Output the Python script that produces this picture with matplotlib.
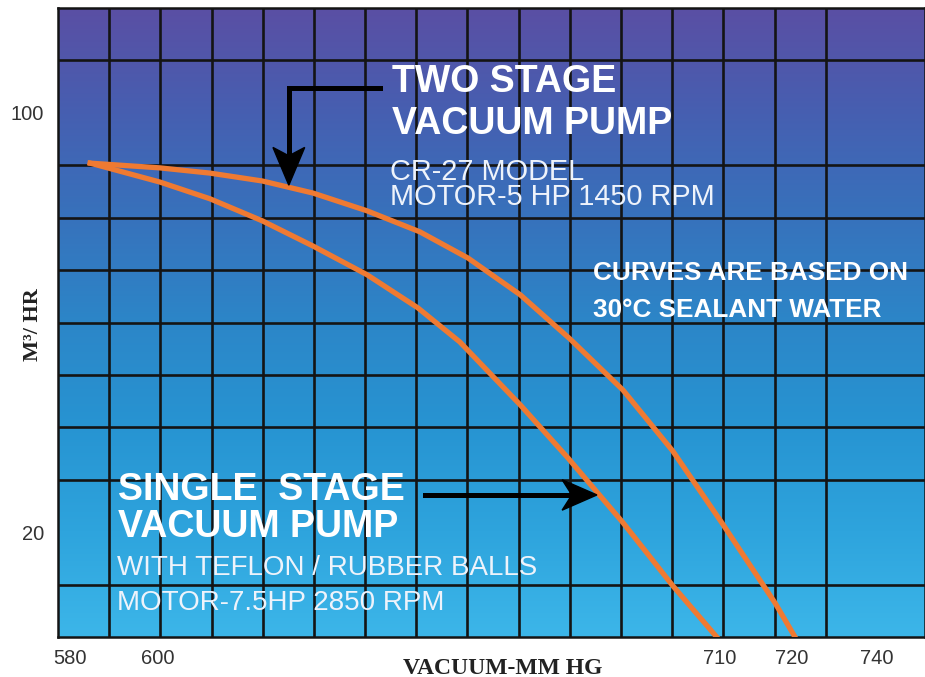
import numpy as np
import matplotlib.pyplot as plt
from matplotlib.colors import LinearSegmentedColormap
from matplotlib.patches import Polygon

# vacuum (mm Hg) vs capacity (m3/hr)
two_x = [586.3, 599.9, 609.7, 619.9, 629.8, 640.4, 650.7, 660.1, 670.3, 680.0,
         690.4, 700.1, 709.7, 714.8, 720.1, 724.0]
two_y = [90.4, 89.5, 88.5, 87.0, 84.7, 81.3, 77.3, 72.3, 65.3, 56.9,
         47.1, 35.5, 21.8, 14.3, 6.5, 0.0]

single_x = [586.3, 599.9, 609.7, 619.9, 629.8, 640.4, 650.3, 658.5, 670.3, 679.6,
            690.4, 700.1, 708.7]
single_y = [90.4, 86.8, 83.6, 79.4, 74.6, 69.1, 62.8, 56.3, 44.3, 34.2,
            21.8, 9.8, 0.0]

xtick_pos = [582.3, 599.5, 709.3, 723.4, 740.0]
xtick_lab = ['580', '600', '710', '720', '740']
ytick_pos = [100, 20]
ytick_lab = ['100', '20']

fig = plt.figure(figsize=(9.25, 6.77), dpi=100)
ax = fig.add_axes([58/925, 40/677, 867/925, 629/677])
xmin, xmax, ymin, ymax = 580, 749.4, 0, 120

# background gradient purple -> light blue
cmap = LinearSegmentedColormap.from_list('bg', ['#3cb6e9', '#2ea4dd', '#2794d2', '#2c86c8',
                                                 '#3772bc', '#465fb1', '#5a4fa4'])
grad = np.linspace(0, 1, 256).reshape(-1, 1)
ax.imshow(grad, cmap=cmap, origin='lower', extent=[xmin, xmax, ymin, ymax],
          aspect='auto', zorder=0)

ax.set_xlim(xmin, xmax)
ax.set_ylim(ymin, ymax)
ax.set_xticks(np.arange(590, 750, 10), minor=True)
ax.set_yticks(np.arange(10, 120, 10), minor=True)
ax.grid(which='minor', color='#141414', lw=1.9, zorder=1)
ax.set_xticks(xtick_pos)
ax.set_xticklabels(xtick_lab)
ax.set_yticks(ytick_pos)
ax.set_yticklabels(ytick_lab)
ax.tick_params(which='both', length=0)
ax.tick_params(axis='x', pad=9, labelsize=14.5, labelcolor='#333333')
ax.tick_params(axis='y', pad=10, labelsize=14.5, labelcolor='#333333')
for lab in ax.get_xticklabels() + ax.get_yticklabels():
    lab.set_fontfamily('Liberation Sans')
for s in ax.spines.values():
    s.set_color('#141414')
    s.set_linewidth(1.8)

orange = '#ef7a32'
ax.plot(two_x, two_y, color=orange, lw=3.8, zorder=3, solid_joinstyle='round')
ax.plot(single_x, single_y, color=orange, lw=3.8, zorder=3, solid_joinstyle='round')

# arrows
ax.plot([642.9, 625.1, 625.1], [104.7, 104.7, 92.0], color='black', lw=3.6, zorder=4,
        solid_joinstyle='miter')
ax.add_patch(Polygon([(622.0, 93.4), (625.1, 86.2), (628.2, 93.4), (625.1, 91.8)],
                     closed=True, color='black', zorder=4))
ax.plot([651.7, 680.0], [27.1, 27.1], color='black', lw=3.6, zorder=4)
ax.add_patch(Polygon([(678.5, 30.0), (685.3, 27.1), (678.5, 24.2), (680.4, 27.1)],
                     closed=True, color='black', zorder=4))

# texts
big = dict(color='white', fontsize=27, fontweight='bold', family='Liberation Sans', zorder=5)
small = dict(color='#eef3fb', fontsize=20, family='Liberation Sans', zorder=5)
ax.text(645.2, 104.0, 'TWO STAGE', **big)
ax.text(645.2, 96.0, 'VACUUM PUMP', **big)
ax.text(644.9, 87.2, 'CR-27 MODEL', color='#eef3fb', fontsize=20.8,
        family='Liberation Sans', zorder=5)
ax.text(644.9, 82.4, 'MOTOR-5 HP 1450 RPM', color='#eef3fb', fontsize=20.8,
        family='Liberation Sans', zorder=5)

note = dict(color='white', fontsize=18.8, fontweight='bold', family='Liberation Sans', zorder=5)
ax.text(684.5, 68.1, 'CURVES ARE BASED ON', **note)
ax.text(684.5, 61.1, '30\u00b0C SEALANT WATER', **note)

ax.text(591.7, 26.2, 'SINGLE  STAGE', **big)
ax.text(591.7, 19.1, 'VACUUM PUMP', **big)
ax.text(591.5, 11.9, 'WITH TEFLON / RUBBER BALLS', **small)
ax.text(591.5, 5.2, 'MOTOR-7.5HP 2850 RPM', **small)

fig.text(503/925, 1 - 668/677, 'VACUUM-MM HG', ha='center', va='center', fontsize=17,
         fontweight='bold', family='Liberation Serif', color='#222222')
fig.text(33/925, 1 - 325/677, 'M\u00b3/ HR', ha='center', va='center', rotation=90,
         fontsize=16, fontweight='bold', family='Liberation Serif', color='#222222')

fig.savefig('out.png', dpi=100)
